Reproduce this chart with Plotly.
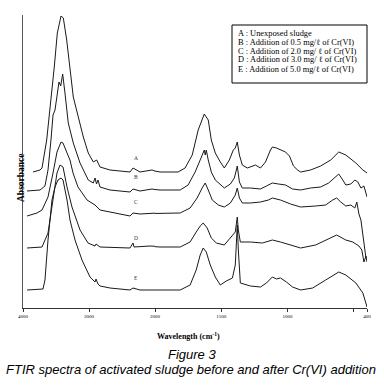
import plotly.graph_objects as go

# Wavenumber (cm-1) and stacked absorbance (arbitrary units) for each spectrum
wn_A = [3848, 3742, 3712, 3641, 3526, 3480, 3424, 3389, 3338, 3288, 3238, 3162, 3086, 3011, 2935, 2884, 2833, 2682, 2379,
        2333, 2227, 2045, 1962, 1826, 1773, 1719, 1674, 1628, 1598, 1575, 1545, 1507, 1477, 1439, 1409, 1394, 1379, 1363,
        1341, 1303, 1265, 1242, 1204, 1166, 1129, 1114, 1083, 1053, 1015, 985, 955, 924, 901, 826, 750, 674, 613, 560,
        484, 431, 400]
ab_A = [136, 138, 140, 168, 241, 275, 292, 290, 268, 238, 211, 191, 171, 155, 146, 148, 141, 138, 136,
        140, 136, 138, 136, 136, 140, 153, 178, 194, 188, 168, 155, 146, 140, 148, 158, 160, 166, 153,
        143, 140, 142, 143, 140, 146, 158, 161, 160, 158, 156, 152, 142, 138, 136, 138, 142, 148, 156, 153,
        145, 138, 135]

wn_B = [3939, 3742, 3667, 3621, 3576, 3545, 3515, 3485, 3455, 3429, 3399, 3364, 3314, 3238, 3136, 3011, 2935, 2909, 2886,
        2864, 2833, 2682, 2379, 2333, 2227, 2045, 1962, 1810, 1750, 1697, 1659, 1636, 1628, 1621, 1613, 1598, 1575, 1545,
        1507, 1477, 1431, 1401, 1386, 1379, 1363, 1341, 1280, 1204, 1159, 1114, 1068, 1015, 962, 901, 826, 750, 689, 644,
        613, 583, 560, 522, 492, 469, 446, 423, 400]
ab_B = [117, 118, 122, 138, 168, 193, 198, 213, 226, 222, 234, 215, 185, 165, 145, 128, 125, 130, 124,
        128, 121, 118, 116, 119, 117, 119, 118, 118, 123, 136, 148, 156, 158, 153, 158, 148, 136, 128,
        123, 120, 124, 130, 138, 142, 126, 120, 120, 119, 122, 125, 124, 123, 119, 118, 120, 121, 125, 130,
        134, 128, 123, 124, 128, 126, 120, 122, 111]

wn_C = [3939, 3788, 3712, 3621, 3545, 3485, 3424, 3394, 3333, 3288, 3242, 3167, 3030, 2909, 2833, 2379, 2333, 2227, 1962,
        1810, 1735, 1682, 1644, 1621, 1598, 1568, 1522, 1477, 1431, 1394, 1379, 1363, 1341, 1280, 1204, 1144, 1114, 1053,
        977, 901, 788, 712, 659, 629, 598, 560, 522, 492, 477, 461, 446, 423, 408]
ab_C = [92, 95, 98, 111, 135, 156, 166, 165, 155, 148, 135, 121, 108, 103, 98, 92, 95, 94, 95,
        95, 100, 110, 120, 125, 118, 108, 103, 101, 105, 113, 120, 110, 105, 105, 106, 108, 110, 108,
        104, 101, 102, 103, 108, 110, 106, 102, 103, 100, 106, 94, 88, 63, 50]

wn_D = [3939, 3712, 3621, 3545, 3485, 3439, 3394, 3333, 3258, 3136, 3015, 2909, 2894, 2833, 2379, 2333, 2318, 2076, 1962,
        1810, 1735, 1689, 1659, 1636, 1606, 1575, 1537, 1477, 1416, 1394, 1379, 1371, 1356, 1280, 1189, 1114, 1053, 977,
        901, 788, 712, 629, 560, 507, 461, 439, 423, 408, 400]
ab_D = [60, 61, 75, 108, 135, 143, 141, 121, 101, 78, 65, 62, 64, 61, 60, 65, 61, 62, 61,
        61, 66, 76, 82, 85, 80, 70, 65, 63, 73, 76, 91, 78, 66, 66, 65, 68, 66, 63,
        60, 63, 68, 73, 68, 66, 62, 58, 46, 52, 46]

wn_E = [3939, 3697, 3667, 3621, 3561, 3515, 3470, 3424, 3394, 3333, 3288, 3212, 3106, 2985, 2909, 2894, 2864, 2833, 2682,
        2379, 2333, 2227, 1962, 1810, 1735, 1689, 1659, 1636, 1613, 1583, 1545, 1507, 1462, 1416, 1394, 1386, 1379, 1371,
        1356, 1280, 1204, 1159, 1114, 1083, 1053, 1008, 962, 901, 810, 712, 613, 560, 484, 431, 408, 400]
ab_E = [18, 19, 28, 68, 108, 121, 128, 130, 128, 108, 88, 68, 48, 31, 26, 29, 24, 22, 20,
        18, 20, 18, 18, 18, 23, 38, 53, 60, 56, 43, 31, 23, 27, 30, 43, 68, 83, 58,
        25, 22, 21, 25, 31, 29, 30, 26, 21, 18, 20, 28, 36, 33, 25, 15, 5, 1]

series = [("A", wn_A, ab_A), ("B", wn_B, ab_B), ("C", wn_C, ab_C), ("D", wn_D, ab_D), ("E", wn_E, ab_E)]
label_wn = 2290
label_ab = [145, 126, 101, 65, 25]

left_ticks = [4000, 3000, 2000]
right_ticks = [1500, 1000, 400]
right_minor = [500]

legend_lines = [
    "A : Unexposed sludge",
    "B : Addition of 0.5 mg/ℓ of Cr(VI)",
    "C : Addition of 2.0 mg/ ℓ of Cr(VI)",
    "D : Addition of 3.0 mg/ ℓ of Cr(VI)",
    "E : Addition of 5.0 mg/ℓ of Cr(VI)",
]

W, H = 384, 391
L, R, T, B = 23, 17, 15, 83
PW, PH = W - L - R, H - T - B
split = (155 - L) / PW

def px(x):
    return (x - L) / PW

def py(y):
    return (H - B - y) / PH

fig = go.Figure()
line_style = dict(color="#1a1a1a", width=1)
for name, wn, ab in series:
    fig.add_trace(go.Scatter(x=wn, y=ab, mode="lines", line=line_style, xaxis="x", yaxis="y",
                             showlegend=False, hoverinfo="skip"))
    fig.add_trace(go.Scatter(x=wn, y=ab, mode="lines", line=line_style, xaxis="x2", yaxis="y",
                             showlegend=False, hoverinfo="skip"))

serif = "Liberation Serif, Times New Roman, serif"
sans = "Liberation Sans, Arial, sans-serif"

annotations = []
for (name, _, _), lab in zip(series, label_ab):
    annotations.append(dict(x=label_wn, y=lab, xref="x", yref="y",
                            text=name, showarrow=False, font=dict(family=serif, size=5.5, color="#223355"),
                            yanchor="bottom", xanchor="center"))

for i, t in enumerate(legend_lines):
    annotations.append(dict(x=px(236), y=py(33 + 9 * i), xref="paper", yref="paper", text=t,
                            showarrow=False, xanchor="left", yanchor="middle",
                            font=dict(family=serif, size=8.4, color="black")))

annotations += [
    dict(x=px(14), y=py(178), xref="paper", yref="paper", text="<b>Absorbance</b>", textangle=-90,
         showarrow=False, font=dict(family=serif, size=9.5, color="black")),
    dict(x=px(188), y=py(343), xref="paper", yref="paper", text="<b>Wavelength (cm<sup>-1</sup>)</b>",
         showarrow=False, font=dict(family=serif, size=8, color="black")),
    dict(x=px(192), y=py(364), xref="paper", yref="paper", text="<i>Figure 3</i>",
         showarrow=False, font=dict(family=sans, size=13, color="black")),
    dict(x=px(191), y=py(378.5), xref="paper", yref="paper",
         text="<i>FTIR spectra of activated sludge before and after Cr(VI) addition</i>",
         showarrow=False, font=dict(family=sans, size=13, color="black")),
]

shapes = [dict(type="rect", xref="paper", yref="paper", x0=px(232), x1=px(367), y0=py(25), y1=py(83),
               line=dict(color="black", width=1), fillcolor="white", layer="below")]

axis_common = dict(showgrid=False, zeroline=False, showline=True, linecolor="#333", linewidth=1,
                   automargin=False, ticks="outside", ticklen=3, tickcolor="#333", tickmode="array",
                   tickfont=dict(family=serif, size=5, color="black"))

fig.update_layout(
    template="none",
    width=W, height=H, margin=dict(l=L, r=R, t=T, b=B, pad=0), autosize=False,
    paper_bgcolor="white", plot_bgcolor="white",
    xaxis=dict(domain=[0, split], range=[4000, 2000], tickvals=left_ticks,
               ticktext=[str(v) for v in left_ticks], anchor="y", **axis_common),
    xaxis2=dict(domain=[split, 1], range=[2000, 400], tickvals=right_ticks,
                ticktext=[str(v) for v in right_ticks], anchor="y",
                minor=dict(tickmode="array", tickvals=right_minor, ticks="outside", ticklen=3,
                           tickcolor="#333", showgrid=False),
                **axis_common),
    yaxis=dict(range=[0, PH], showgrid=False, zeroline=False, showline=True, linecolor="#555",
               linewidth=1, showticklabels=False, ticks="", automargin=False),
    annotations=annotations, shapes=shapes,
)

fig.write_html("out.html", config={"displayModeBar": False, "staticPlot": True},
               post_script="document.body.style.margin='0px';document.body.style.padding='0px';")
